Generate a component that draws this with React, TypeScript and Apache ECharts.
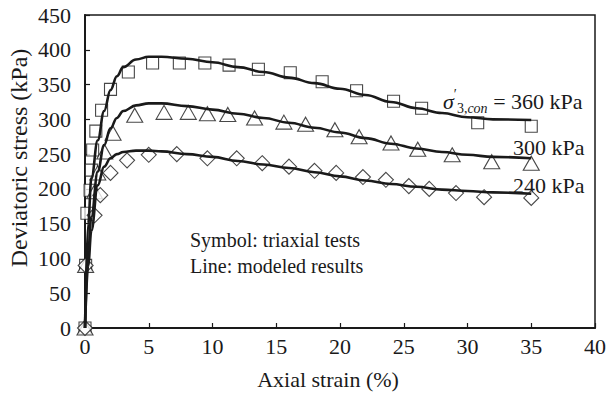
import React, { useEffect, useRef } from "react";
import * as echarts from "echarts";

const xTicks = [0, 5, 10, 15, 20, 25, 30, 35, 40];
const yTicks = [0, 50, 100, 150, 200, 250, 300, 350, 400, 450];

// Triaxial test results: [axial strain %, deviatoric stress kPa]
const test360: number[][] = [
  [0, 0], [0.05, 90], [0.15, 165], [0.4, 198], [0.5, 227], [0.6, 256], [0.85, 283],
  [1.3, 313], [2.0, 343], [3.4, 368], [5.3, 381], [7.4, 381], [9.4, 381], [11.3, 378],
  [13.6, 372], [16.1, 367], [18.6, 354], [21.3, 341], [24.2, 326], [26.4, 316],
  [30.8, 295], [35, 290],
];
const test300: number[][] = [
  [0, 0], [0.05, 90], [0.75, 196], [1.0, 223], [1.55, 253], [2.2, 280], [3.9, 306],
  [6.2, 310], [8.1, 310], [9.6, 308], [11.2, 307], [13.3, 302], [15.6, 296], [17.3, 293],
  [19.6, 285], [21.5, 275], [24.0, 266], [26.1, 257], [28.8, 249], [31.9, 239], [35, 237],
];
const test240: number[][] = [
  [0, 0], [0.05, 90], [0.75, 162], [1.2, 191], [2.0, 223], [3.3, 241], [5.0, 249],
  [7.2, 250], [9.6, 244], [11.9, 244], [13.9, 237], [16.0, 232], [18.0, 226], [19.7, 223],
  [21.8, 217], [23.6, 213], [25.4, 204], [27.0, 200], [29.1, 194], [31.3, 188], [35, 187],
];

// Modeled results
const modelStrain = [0, 0.25, 0.5, 1, 1.5, 2, 2.5, 3, 4, 5, 6, 8, 10, 12, 14, 16, 18, 20, 22, 24, 26, 28, 30, 32, 35];
const model360 = [0, 150, 215, 270, 312, 342, 362, 375, 386, 390, 390, 387, 382, 375, 368, 360, 352, 344, 335, 325, 316, 309, 303, 300, 299];
const model300 = [0, 110, 160, 225, 263, 287, 302, 312, 320, 323, 323, 319, 314, 308, 302, 295, 288, 281, 273, 265, 258, 253, 249, 246, 244];
const model240 = [0, 90, 140, 205, 232, 244, 250, 253, 255, 255, 254, 250, 246, 240, 235, 230, 224, 218, 212, 207, 203, 199, 197, 195, 193];

const FAMILY = "Liberation Serif";
const INK = "#1a1a1a";

function pair(xs: number[], ys: number[]) {
  return xs.map((x, i) => [x, ys[i]]);
}

export default function App() {
  const ref = useRef<HTMLDivElement>(null);
  useEffect(() => {
    if (!ref.current) return;
    const chart = echarts.init(ref.current, undefined, { renderer: "svg" });
    const markerStyle = { color: "#ffffff", borderColor: INK, borderWidth: 1.1 };
    const lineSeries = (data: number[][]) => ({
      type: "line",
      data,
      smooth: 0.4,
      smoothMonotone: "x",
      showSymbol: false,
      symbol: "none",
      lineStyle: { color: INK, width: 2.6 },
      z: 3,
    });
    const scatterSeries = (data: number[][], symbol: string, size: number | number[]) => ({
      type: "scatter",
      data,
      symbol,
      symbolSize: size,
      itemStyle: markerStyle,
      z: 2,
    });
    const txt = (text: string, x: number, y: number, size = 20, extra: any = {}) => ({
      type: "text", x, y, ...extra,
      style: {
        text, fontFamily: FAMILY, fontSize: size, fill: INK,
        align: "left", verticalAlign: "middle", ...(extra.style || {}),
      },
    });
    chart.setOption({
      animation: false,
      grid: {
        left: 85, right: 12, top: 15, bottom: 66,
        show: true, borderColor: INK, borderWidth: 1.5, backgroundColor: "transparent",
      },
      xAxis: {
        type: "value", min: 0, max: 40, interval: 5,
        axisLine: { show: true, onZero: false, lineStyle: { color: INK, width: 2 } },
        axisTick: { show: true, inside: true, length: 5, lineStyle: { color: INK, width: 1.2 } },
        axisLabel: {
          color: INK, fontFamily: FAMILY, fontSize: 22, margin: 7,
          formatter: (v: number) => (xTicks.includes(v) ? String(v) : ""),
        },
        splitLine: { show: false },
      },
      yAxis: {
        type: "value", min: 0, max: 450, interval: 50,
        axisLine: { show: true, onZero: false, lineStyle: { color: INK, width: 2 } },
        axisTick: { show: true, inside: true, length: 5, lineStyle: { color: INK, width: 1.2 } },
        axisLabel: {
          color: INK, fontFamily: FAMILY, fontSize: 22, margin: 14,
          formatter: (v: number) => (yTicks.includes(v) ? String(v) : ""),
        },
        splitLine: { show: false },
      },
      series: [
        scatterSeries(test360, "rect", 12),
        scatterSeries(test300, "triangle", [16, 14]),
        scatterSeries(test240, "diamond", [15, 15]),
        lineSeries(pair(modelStrain, model360)),
        lineSeries(pair(modelStrain, model300)),
        lineSeries(pair(modelStrain, model240)),
      ],
      graphic: [
        txt("Axial strain (%)", 328, 379, 22, { style: { align: "center" } }),
        txt("Deviatoric stress (kPa)", 19, 158, 24, { rotation: Math.PI / 2, style: { align: "center" } }),
        txt("Symbol: triaxial tests", 190, 240, 20),
        txt("Line: modeled results", 190, 266, 20),
        {
          type: "text", x: 443, y: 101,
          style: {
            text: "{i|σ}{p|′}{s|3,}{si|con}{n| = 360 kPa}",
            fontFamily: FAMILY, fontSize: 22, fill: INK, align: "left", verticalAlign: "middle",
            rich: {
              i: { fontFamily: FAMILY, fontSize: 22, fontStyle: "italic", color: INK, lineHeight: 28 },
              p: { fontFamily: FAMILY, fontSize: 14, color: INK, verticalAlign: "top", lineHeight: 16 },
              s: { fontFamily: FAMILY, fontSize: 14, color: INK, verticalAlign: "bottom", lineHeight: 15 },
              si: { fontFamily: FAMILY, fontSize: 14, fontStyle: "italic", color: INK, verticalAlign: "bottom", lineHeight: 15 },
              n: { fontFamily: FAMILY, fontSize: 22, color: INK, lineHeight: 28 },
            },
          },
        },
        txt("300 kPa", 513, 147, 22),
        txt("240 kPa", 513, 185, 22),
      ],
    });
    return () => chart.dispose();
  }, []);
  return <div ref={ref} style={{ width: 609, height: 394, position: "absolute", left: 0, top: 0, background: "#fff" }} />;
}
